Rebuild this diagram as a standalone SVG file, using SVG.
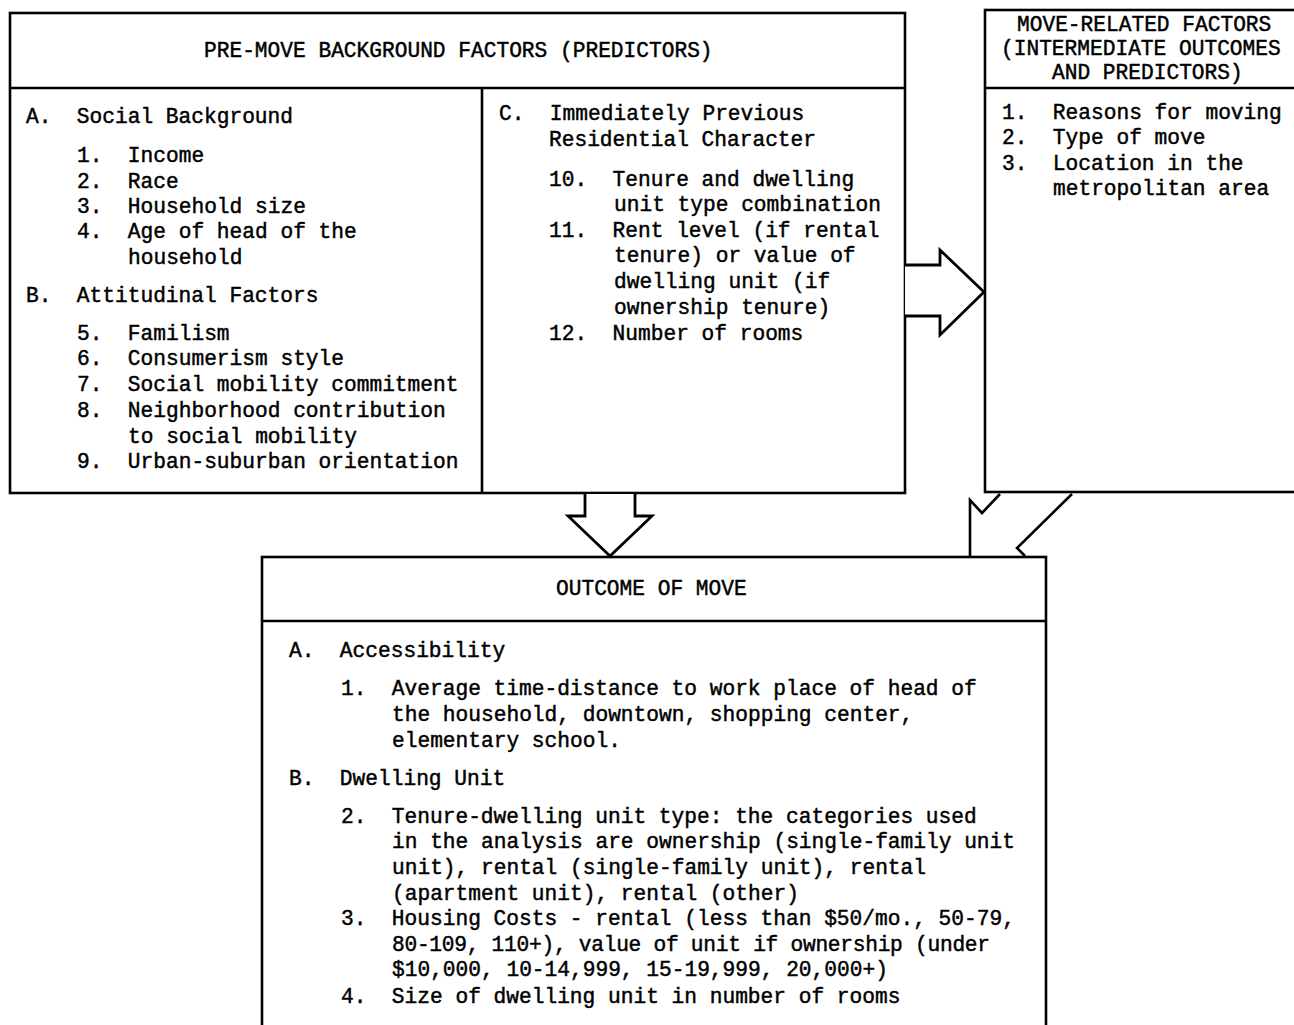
<svg xmlns="http://www.w3.org/2000/svg" width="1294" height="1025" viewBox="0 0 1294 1025" xml:space="preserve">
<style>
.box{fill:#fff;stroke:#000;stroke-width:2.6}
.ln{fill:none;stroke:#000;stroke-width:2.6}
.arr{fill:#fff;stroke:#000;stroke-width:2.8;stroke-linejoin:miter}
text{font-family:"Liberation Mono","Courier New",monospace;font-size:21.2px;fill:#000;stroke:#000;stroke-width:0.45;white-space:pre}
</style>
<rect width="1294" height="1025" fill="#fff"/>
<g id="premove">
<rect class="box" x="10" y="13" width="895" height="480"/>
<line class="ln" x1="10" y1="88" x2="905" y2="88"/>
<line class="ln" x1="482" y1="88" x2="482" y2="493"/>
<text x="204" y="57">PRE-MOVE BACKGROUND FACTORS (PREDICTORS)</text>
<text x="26" y="123">A.  Social Background</text>
<text x="77" y="162">1.  Income</text>
<text x="77" y="188">2.  Race</text>
<text x="77" y="213">3.  Household size</text>
<text x="77" y="238">4.  Age of head of the</text>
<text x="128" y="264">household</text>
<text x="26" y="302">B.  Attitudinal Factors</text>
<text x="77" y="340">5.  Familism</text>
<text x="77" y="365">6.  Consumerism style</text>
<text x="77" y="391">7.  Social mobility commitment</text>
<text x="77" y="417">8.  Neighborhood contribution</text>
<text x="128" y="443">to social mobility</text>
<text x="77" y="468">9.  Urban-suburban orientation</text>
<text x="499" y="120">C.  Immediately Previous</text>
<text x="549" y="146">Residential Character</text>
<text x="549" y="186">10.  Tenure and dwelling</text>
<text x="614" y="211">unit type combination</text>
<text x="549" y="237">11.  Rent level (if rental</text>
<text x="614" y="262">tenure) or value of</text>
<text x="614" y="288">dwelling unit (if</text>
<text x="614" y="314">ownership tenure)</text>
<text x="549" y="340">12.  Number of rooms</text>
</g>
<g id="moverelated">
<rect class="box" x="985" y="10" width="320" height="482"/>
<line class="ln" x1="985" y1="88" x2="1300" y2="88"/>
<text x="1017" y="31">MOVE-RELATED FACTORS</text>
<text x="1001" y="55">(INTERMEDIATE OUTCOMES</text>
<text x="1052" y="79">AND PREDICTORS)</text>
<text x="1002" y="119">1.  Reasons for moving</text>
<text x="1002" y="144">2.  Type of move</text>
<text x="1002" y="170">3.  Location in the</text>
<text x="1053" y="195">metropolitan area</text>
</g>
<g id="outcome">
<rect class="box" x="262" y="557" width="784" height="500"/>
<line class="ln" x1="262" y1="621" x2="1046" y2="621"/>
<text x="556" y="595">OUTCOME OF MOVE</text>
<text x="289" y="657">A.  Accessibility</text>
<text x="341" y="695">1.  Average time-distance to work place of head of</text>
<text x="392" y="721">the household, downtown, shopping center,</text>
<text x="392" y="747">elementary school.</text>
<text x="289" y="785">B.  Dwelling Unit</text>
<text x="341" y="823">2.  Tenure-dwelling unit type: the categories used</text>
<text x="392" y="848">in the analysis are ownership (single-family unit</text>
<text x="392" y="874">unit), rental (single-family unit), rental</text>
<text x="392" y="900">(apartment unit), rental (other)</text>
<text x="341" y="925">3.  Housing Costs - rental (less than $50/mo., 50-79,</text>
<text x="392" y="951" textLength="598" lengthAdjust="spacing">80-109, 110+), value of unit if ownership (under</text>
<text x="392" y="976">$10,000, 10-14,999, 15-19,999, 20,000+)</text>
<text x="341" y="1003">4.  Size of dwelling unit in number of rooms</text>
</g>
<g id="connectors">
<polyline class="arr" points="905,265 940,265 940,250 984,292 940,335 940,316 905,316"/>
<polyline class="arr" points="585,494 585,516 568,516 610,556 652,516 635,516 635,494"/>
<polyline class="ln" points="1000,494 982,513 970,500 970,556"/>
<polyline class="ln" points="1072,494 1017,548 1025,556"/>
</g>
</svg>
